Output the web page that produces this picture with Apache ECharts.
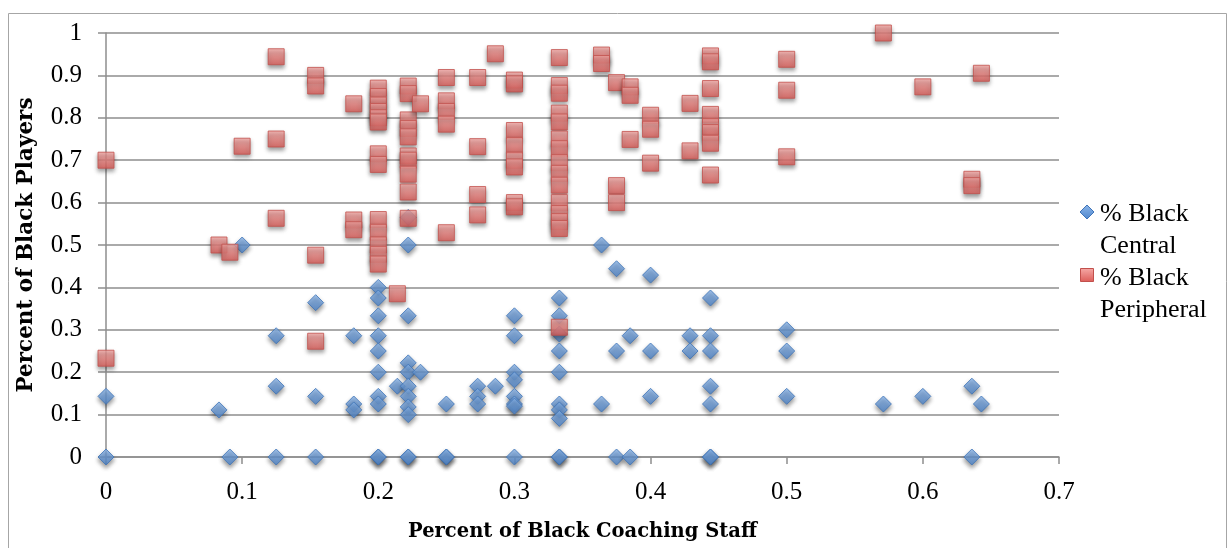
<!DOCTYPE html>
<html>
<head>
<meta charset="utf-8">
<script src="https://cdn.jsdelivr.net/npm/echarts@6/dist/echarts.min.js"></script>
<style>
  html, body { margin: 0; padding: 0; background: #fff; }
  #chart { width: 1228px; height: 548px; }
</style>
</head>
<body>
<div id="chart"></div>
<script>
// Share of black coaching staff (x) against share of black players (y)
var centralX = [
  0, 0, 0.083, 0.091, 0.1,
  0.125, 0.125, 0.125, 0.154, 0.154, 0.154,
  0.182, 0.182, 0.182,
  0.2, 0.2, 0.2, 0.2, 0.2, 0.2, 0.2, 0.2, 0.2, 0.2,
  0.214,
  0.222, 0.222, 0.222, 0.222, 0.222, 0.222, 0.222, 0.222, 0.222, 0.222, 0.222,
  0.231, 0.25, 0.25, 0.25,
  0.273, 0.273, 0.273, 0.286,
  0.3, 0.3, 0.3, 0.3, 0.3, 0.3, 0.3, 0.3,
  0.333, 0.333, 0.333, 0.333, 0.333, 0.333, 0.333, 0.333, 0.333, 0.333,
  0.364, 0.364, 0.375, 0.375, 0.375, 0.385, 0.385,
  0.4, 0.4, 0.4, 0.429, 0.429,
  0.444, 0.444, 0.444, 0.444, 0.444, 0.444, 0.444,
  0.5, 0.5, 0.5, 0.571, 0.6, 0.636, 0.636, 0.643
];
var centralY = [
  0.143, 0, 0.111, 0, 0.5,
  0.286, 0.167, 0, 0.364, 0.143, 0,
  0.286, 0.125, 0.111,
  0.4, 0.375, 0.333, 0.286, 0.25, 0.2, 0.143, 0.125, 0, 0,
  0.167,
  0.565, 0.5, 0.333, 0.222, 0.2, 0.167, 0.143, 0.118, 0.1, 0, 0,
  0.2, 0.125, 0, 0,
  0.167, 0.143, 0.125, 0.167,
  0.333, 0.286, 0.2, 0.182, 0.143, 0.125, 0.12, 0,
  0.375, 0.333, 0.29, 0.25, 0.2, 0.125, 0.111, 0.091, 0, 0,
  0.5, 0.125, 0.444, 0.25, 0, 0.286, 0,
  0.429, 0.25, 0.143, 0.286, 0.25,
  0.375, 0.286, 0.25, 0.167, 0.125, 0, 0,
  0.3, 0.25, 0.143, 0.125, 0.143, 0.167, 0, 0.125
];
var peripheralX = [
  0, 0, 0.083, 0.091, 0.1,
  0.125, 0.125, 0.125, 0.154, 0.154, 0.154, 0.154,
  0.182, 0.182, 0.182,
  0.2, 0.2, 0.2, 0.2, 0.2, 0.2, 0.2, 0.2, 0.2, 0.2, 0.2, 0.2, 0.2,
  0.214,
  0.222, 0.222, 0.222, 0.222, 0.222, 0.222, 0.222, 0.222, 0.222, 0.222,
  0.231, 0.25, 0.25, 0.25, 0.25, 0.25,
  0.273, 0.273, 0.273, 0.273, 0.286,
  0.3, 0.3, 0.3, 0.3, 0.3, 0.3, 0.3, 0.3,
  0.333, 0.333, 0.333, 0.333, 0.333, 0.333, 0.333, 0.333, 0.333, 0.333, 0.333, 0.333, 0.333, 0.333, 0.333,
  0.364, 0.364, 0.375, 0.375, 0.375, 0.385, 0.385, 0.385,
  0.4, 0.4, 0.4, 0.429, 0.429,
  0.444, 0.444, 0.444, 0.444, 0.444, 0.444, 0.444, 0.444,
  0.5, 0.5, 0.5, 0.571, 0.6, 0.636, 0.636, 0.643
];
var peripheralY = [
  0.7, 0.233, 0.5, 0.483, 0.733,
  0.944, 0.75, 0.563, 0.9, 0.875, 0.476, 0.273,
  0.833, 0.559, 0.536,
  0.87, 0.85, 0.83, 0.815, 0.8, 0.79, 0.715, 0.69, 0.56, 0.53, 0.5, 0.478, 0.455,
  0.385,
  0.875, 0.857, 0.795, 0.775, 0.755, 0.71, 0.7, 0.667, 0.625, 0.563,
  0.833, 0.895, 0.84, 0.815, 0.785, 0.529,
  0.895, 0.732, 0.619, 0.571, 0.951,
  0.889, 0.88, 0.77, 0.735, 0.7, 0.684, 0.6, 0.59,
  0.942, 0.876, 0.858, 0.811, 0.79, 0.75, 0.727, 0.694, 0.669, 0.641, 0.6, 0.574, 0.555, 0.539, 0.306,
  0.948, 0.928, 0.883, 0.64, 0.6, 0.873, 0.853, 0.749,
  0.806, 0.773, 0.693, 0.834, 0.722,
  0.946, 0.932, 0.869, 0.808, 0.779, 0.765, 0.74, 0.665,
  0.938, 0.865, 0.708, 1.0, 0.873, 0.655, 0.64, 0.905
];
var seriesNames = ['% Black Central', '% Black Peripheral'];
var legendLines = [['% Black', 'Central'], ['% Black', 'Peripheral']];

function pairs(xs, ys) {
  return xs.map(function (x, i) { return [x, ys[i]]; });
}

var FONT = '"Liberation Serif", "DejaVu Serif", serif';
var TITLE_FONT = '"DejaVu Serif", "Liberation Serif", serif';
var gridColor = '#8e8e8e';

var blueFill = new echarts.graphic.LinearGradient(0, 0, 0, 1, [
  { offset: 0, color: '#8bb6ea' },
  { offset: 1, color: '#4f86cc' }
]);
var redFill = new echarts.graphic.LinearGradient(0, 0, 0, 1, [
  { offset: 0, color: '#f6aaa7' },
  { offset: 1, color: '#dc5c58' }
]);

var chart = echarts.init(document.getElementById('chart'), null, { renderer: 'canvas' });

var option = {
  backgroundColor: '#ffffff',
  animation: false,
  grid: {
    left: 106, right: 169, top: 33, bottom: 91,
    containLabel: false, outerBoundsMode: 'none'
  },
  xAxis: {
    type: 'value', min: 0, max: 0.7, interval: 0.1,
    name: 'Percent of Black Coaching Staff',
    nameLocation: 'middle', nameGap: 65,
    nameTextStyle: { fontFamily: TITLE_FONT, fontWeight: 'bold', fontSize: 19.5, color: '#000' },
    axisLine: { show: true, onZero: false, lineStyle: { color: gridColor, width: 1.5 } },
    axisTick: { show: true, inside: false, length: 7, lineStyle: { color: gridColor, width: 1.5 } },
    axisLabel: { fontFamily: FONT, fontSize: 25, color: '#000', margin: 23 },
    splitLine: { show: false }
  },
  yAxis: {
    type: 'value', min: 0, max: 1, interval: 0.1,
    name: 'Percent of Black Players',
    nameLocation: 'middle', nameGap: 69,
    nameTextStyle: { fontFamily: TITLE_FONT, fontWeight: 'bold', fontSize: 21.5, color: '#000' },
    axisLine: { show: true, onZero: false, lineStyle: { color: gridColor, width: 1.5 } },
    axisTick: { show: true, inside: false, length: 8, lineStyle: { color: gridColor, width: 1.5 } },
    axisLabel: { fontFamily: FONT, fontSize: 25, color: '#000', margin: 24 },
    splitLine: { show: true, lineStyle: { color: gridColor, width: 1.5 } }
  },
  series: [
    {
      name: seriesNames[0],
      type: 'scatter',
      symbol: 'diamond',
      symbolSize: [16, 16],
      data: pairs(centralX, centralY),
      itemStyle: {
        color: blueFill, borderColor: '#3f74b8', borderWidth: 1,
        shadowColor: 'rgba(0,0,0,0.5)', shadowBlur: 4, shadowOffsetY: 3
      },
      z: 2
    },
    {
      name: seriesNames[1],
      type: 'scatter',
      symbol: 'rect',
      symbolSize: [16, 16],
      data: pairs(peripheralX, peripheralY),
      itemStyle: {
        color: redFill, borderColor: '#c2504c', borderWidth: 1,
        shadowColor: 'rgba(0,0,0,0.45)', shadowBlur: 4, shadowOffsetY: 3
      },
      z: 3
    }
  ],
  graphic: [
    {
      type: 'rect', silent: true, z: -10,
      shape: { x: 8.5, y: 13.5, width: 1218, height: 560 },
      style: { fill: 'none', stroke: '#a6a6a6', lineWidth: 1 }
    },
    // legend: diamond entry
    {
      type: 'polygon', z: 10,
      shape: { points: [[1087, 205], [1094, 212], [1087, 219], [1080, 212]] },
      style: { fill: blueFill, stroke: '#3f74b8', lineWidth: 1 }
    },
    {
      type: 'text', z: 10, left: 1100, top: 198,
      style: { text: legendLines[0].join('\n'), font: '26px ' + FONT, fill: '#000', lineHeight: 32 }
    },
    // legend: square entry
    {
      type: 'rect', z: 10,
      shape: { x: 1080.5, y: 268.5, width: 13, height: 13 },
      style: { fill: redFill, stroke: '#c2504c', lineWidth: 1 }
    },
    {
      type: 'text', z: 10, left: 1100, top: 262,
      style: { text: legendLines[1].join('\n'), font: '26px ' + FONT, fill: '#000', lineHeight: 32 }
    }
  ]
};

chart.setOption(option);
</script>
</body>
</html>
